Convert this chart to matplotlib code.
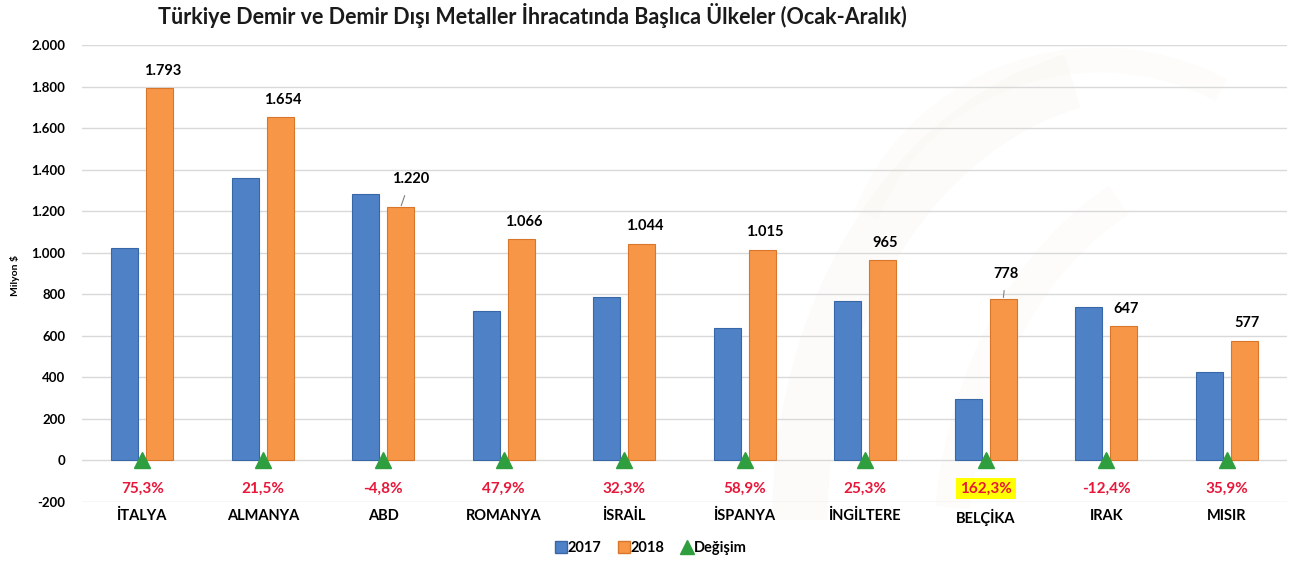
import matplotlib
matplotlib.use("Agg")
import matplotlib.pyplot as plt
from matplotlib.lines import Line2D
from matplotlib.patches import Arc
import numpy as np

countries = ["İTALYA", "ALMANYA", "ABD", "ROMANYA", "İSRAİL", "İSPANYA", "İNGİLTERE", "BELÇİKA", "IRAK", "MISIR"]
val_2017 = [1023, 1361, 1282, 721, 789, 639, 770, 297, 739, 425]
val_2018 = [1793, 1654, 1220, 1066, 1044, 1015, 965, 778, 647, 577]
label_2018 = ["1.793", "1.654", "1.220", "1.066", "1.044", "1.015", "965", "778", "647", "577"]
change_pct = ["75,3%", "21,5%", "-4,8%", "47,9%", "32,3%", "58,9%", "25,3%", "162,3%", "-12,4%", "35,9%"]
yticks = [-200, 0, 200, 400, 600, 800, 1000, 1200, 1400, 1600, 1800, 2000]
ytick_labels = ["-200", "0", "200", "400", "600", "800", "1.000", "1.200", "1.400", "1.600", "1.800", "2.000"]
title = "Türkiye Demir ve Demir Dışı Metaller İhracatında Başlıca Ülkeler (Ocak-Aralık)"

FONT = ["Lato", "DejaVu Sans"]
plt.rcParams['font.family'] = FONT

BLUE = "#4f81c7"
BLUE_E = "#3867a8"
ORANGE = "#f79646"
ORANGE_E = "#d8772c"
GREEN = "#2e9e3e"
RED = "#e8173a"

fig = plt.figure(figsize=(13.04, 5.72), dpi=100)
fig.patch.set_facecolor("white")

# faint watermark swooshes
bg = fig.add_axes([0, 0, 1, 1], zorder=-10)
bg.set_xlim(0, 1304); bg.set_ylim(572, 0); bg.axis("off")
for (cx, cy, w, h, t1, t2, lw, a) in [(1150, 520, 700, 900, 180, 260, 40, 0.05),
                                       (1250, 560, 600, 800, 190, 250, 25, 0.04),
                                       (1100, 300, 500, 480, 200, 300, 18, 0.035)]:
    bg.add_patch(Arc((cx, cy), w, h, theta1=t1, theta2=t2, lw=lw, color="#d9c49a", alpha=a))

ax = fig.add_axes([82/1304, 1-502/572, (1287-82)/1304, (502-45)/572])
ax.set_facecolor("none")
x = np.arange(len(countries))
bw = 0.225
off = 0.145
ax.bar(x - off, val_2017, bw, color=BLUE, edgecolor=BLUE_E, linewidth=0.8, zorder=3)
ax.bar(x + off, val_2018, bw, color=ORANGE, edgecolor=ORANGE_E, linewidth=0.8, zorder=3)
ax.plot(x, [0]*len(x), linestyle="none", marker="^", markersize=11, color=GREEN, zorder=4)

ax.set_xlim(-0.5, len(countries) - 0.5)
ax.set_ylim(-200, 2000)
ax.set_yticks(yticks)
ax.set_yticklabels(ytick_labels, fontsize=9.5, fontweight="bold")
ax.set_xticks(x)
ax.set_xticklabels(countries, fontsize=10.5, fontweight="bold")
ax.tick_params(axis="both", length=0)
ax.tick_params(axis="y", pad=12)
ax.tick_params(axis="x", pad=5)
ax.grid(axis="y", color="#d9d9d9", linewidth=1, zorder=0)
for s in ax.spines.values():
    s.set_visible(False)

# value labels on 2018 bars
for i, (v, lab) in enumerate(zip(val_2018, label_2018)):
    if lab == "1.220":
        ax.annotate(lab, xy=(i + off, v), xytext=(7, 20), textcoords="offset points",
                    ha="center", va="center", fontsize=10.5, fontweight="bold",
                    arrowprops=dict(arrowstyle="-", color="#808080", lw=0.8, shrinkA=5, shrinkB=1))
    elif lab == "778":
        ax.annotate(lab, xy=(i + off, v), xytext=(2, 18), textcoords="offset points",
                    ha="center", va="center", fontsize=10.5, fontweight="bold",
                    arrowprops=dict(arrowstyle="-", color="#808080", lw=0.8, shrinkA=5, shrinkB=1))
    else:
        ax.annotate(lab, xy=(i + off, v), xytext=(2, 12.5), textcoords="offset points",
                    ha="center", va="center", fontsize=10.5, fontweight="bold")

# percentage change labels
for i, p in enumerate(change_pct):
    kw = {}
    if p == "162,3%":
        kw["bbox"] = dict(boxstyle="square,pad=0.25", facecolor="#ffff00", edgecolor="none")
    ax.text(i, -135, p, ha="center", va="center", color=RED, fontsize=11, fontweight="bold", **kw)

fig.text(532/1304, 1-15/572, title, ha="center", va="center", fontsize=15.5, fontweight="bold", color="#1a1a1a")
fig.text(15/1304, 1-275/572, "Milyon $", rotation=90, ha="center", va="center", fontsize=7.5, fontweight="bold")

handles = [Line2D([], [], linestyle="none", marker="s", markersize=8, color=BLUE, markeredgecolor=BLUE_E),
           Line2D([], [], linestyle="none", marker="s", markersize=8, color=ORANGE, markeredgecolor=ORANGE_E),
           Line2D([], [], linestyle="none", marker="^", markersize=10, color=GREEN)]
leg = fig.legend(handles, ["2017", "2018", "Değişim"], loc="center", bbox_to_anchor=(650/1304, 1-548/572),
                 ncol=3, frameon=False, handletextpad=0.0, columnspacing=1.0, handlelength=1.0,
                 prop=dict(family=FONT, weight="bold", size=10.5))

fig.savefig("out.png", dpi=100, facecolor="white")
